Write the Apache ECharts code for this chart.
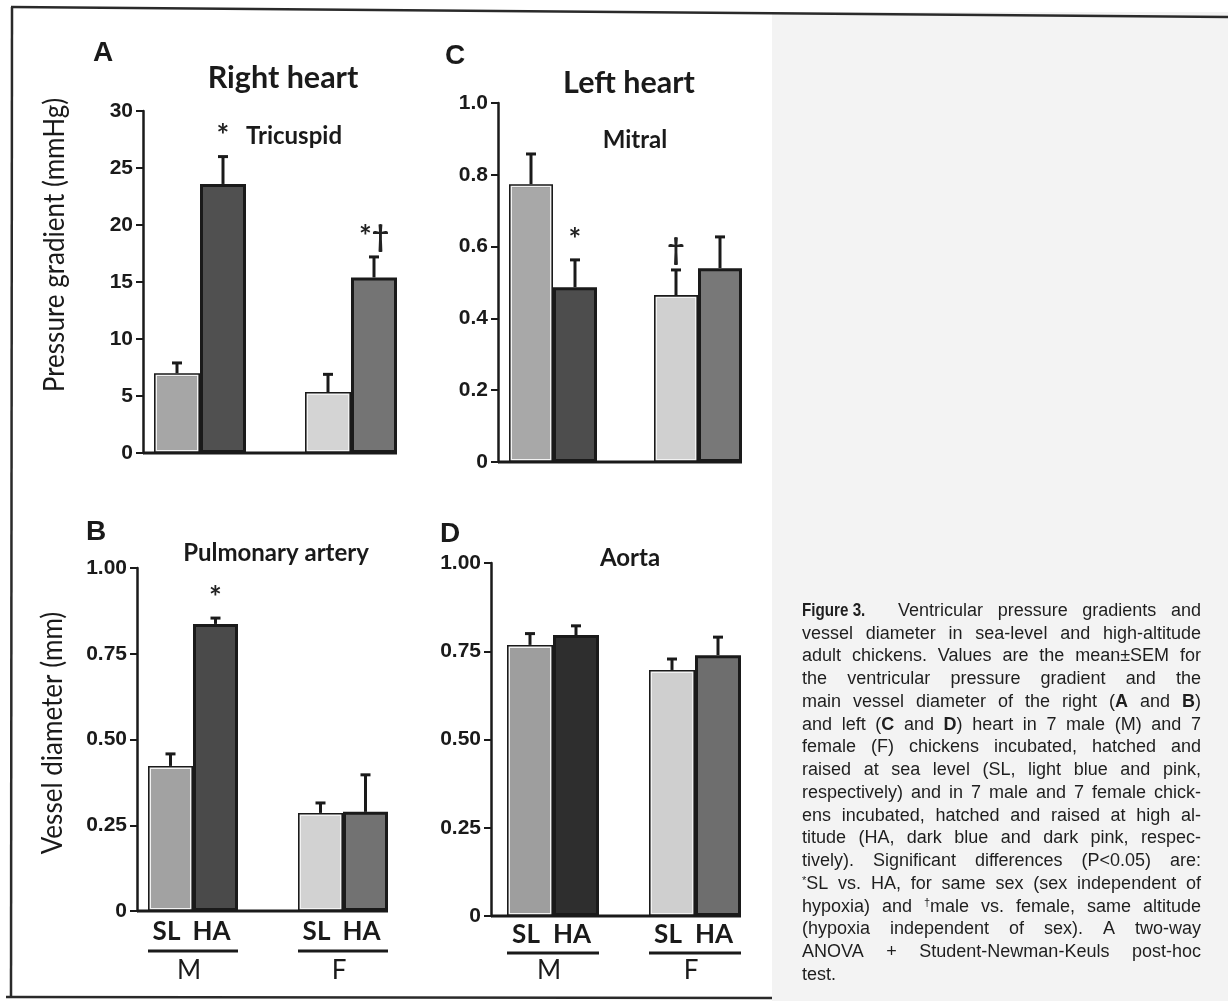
<!DOCTYPE html>
<html><head><meta charset="utf-8">
<script src="https://cdn.jsdelivr.net/npm/echarts@6/dist/echarts.min.js"></script>
<style>html,body{margin:0;padding:0;background:#fff}#c{width:1228px;height:1001px}</style>
</head><body><div id="c"></div>
<script>
// ---------------- DATA ----------------
const groups = ['M', 'F'];
const conditions = ['SL', 'HA'];

// A: Right heart, tricuspid pressure gradient (mmHg)
const tricuspidSL = [7.0, 5.35];
const tricuspidSLErr = [0.9, 1.55];
const tricuspidHA = [23.6, 15.4];
const tricuspidHAErr = [2.4, 1.8];
const tricuspidSigSL = ['', ''];
const tricuspidSigHA = ['*', '*†'];
const ticksA = ['0', '5', '10', '15', '20', '25', '30'];

// B: Pulmonary artery diameter (mm)
const pulmonarySL = [0.423, 0.286];
const pulmonarySLErr = [0.035, 0.029];
const pulmonaryHA = [0.837, 0.289];
const pulmonaryHAErr = [0.017, 0.108];
const pulmonarySigSL = ['', ''];
const pulmonarySigHA = ['*', ''];
const ticksB = ['0', '0.25', '0.50', '0.75', '1.00'];

// C: Left heart, mitral pressure gradient
const mitralSL = [0.774, 0.465];
const mitralSLErr = [0.084, 0.07];
const mitralHA = [0.487, 0.540];
const mitralHAErr = [0.076, 0.087];
const mitralSigSL = ['', '†'];
const mitralSigHA = ['*', ''];
const ticksC = ['0', '0.2', '0.4', '0.6', '0.8', '1.0'];

// D: Aorta diameter (mm)
const aortaSL = [0.768, 0.697];
const aortaSLErr = [0.032, 0.031];
const aortaHA = [0.796, 0.739];
const aortaHAErr = [0.026, 0.051];
const aortaSigSL = ['', ''];
const aortaSigHA = ['', ''];
const ticksD = ['0', '0.25', '0.50', '0.75', '1.00'];

const captionLines = [
  'Ventricular pressure gradients and',
  'vessel diameter in sea-level and high-altitude',
  'adult chickens. Values are the mean±SEM for',
  'the ventricular pressure gradient and the',
  'main vessel diameter of the right ({b|A} and {b|B})',
  'and left ({b|C} and {b|D}) heart in 7 male (M) and 7',
  'female (F) chickens incubated, hatched and',
  'raised at sea level (SL, light blue and pink,',
  'respectively) and in 7 male and 7 female chick-',
  'ens incubated, hatched and raised at high al-',
  'titude (HA, dark blue and dark pink, respec-',
  'tively). Significant differences (P<0.05) are:',
  '{s|*}SL vs. HA, for same sex (sex independent of',
  'hypoxia) and {s|†}male vs. female, same altitude',
  '(hypoxia independent of sex). A two-way',
  'ANOVA + Student-Newman-Keuls post-hoc',
  'test.'
];

// ---------------- STYLE / LAYOUT ----------------
const LATO = "Lato, 'Open Sans', sans-serif";
const ARIAL = "'Liberation Sans', Arial, Helvetica, sans-serif";
const INK = '#1a1a1a';

const panels = [
  { sl: tricuspidSL, slErr: tricuspidSLErr, ha: tricuspidHA, haErr: tricuspidHAErr, sigSL: tricuspidSigSL, sigHA: tricuspidSigHA, ticks: ticksA,
    max: 30, interval: 5, L: 124.5, W: 302, top: 111, H: 342, axisX: 143, barW: 46, cats: false,
    colors: { sl: ['#a6a6a6', '#d4d4d4'], ha: ['#505050', '#747474'] } },
  { sl: pulmonarySL, slErr: pulmonarySLErr, ha: pulmonaryHA, haErr: pulmonaryHAErr, sigSL: pulmonarySigSL, sigHA: pulmonarySigHA, ticks: ticksB,
    max: 1, interval: 0.25, L: 118, W: 300, top: 568, H: 343, axisX: 137, barW: 45, cats: true, labDist: 8, catMargin: 47, ulGap: 40,
    colors: { sl: ['#a2a2a2', '#d2d2d2'], ha: ['#4a4a4a', '#727272'] } },
  { sl: mitralSL, slErr: mitralSLErr, ha: mitralHA, haErr: mitralHAErr, sigSL: mitralSigSL, sigHA: mitralSigHA, ticks: ticksC,
    max: 1, interval: 0.2, L: 480.5, W: 290, top: 103, H: 359, axisX: 498, barW: 44, cats: false,
    colors: { sl: ['#a8a8a8', '#d0d0d0'], ha: ['#4d4d4d', '#787878'] } },
  { sl: aortaSL, slErr: aortaSLErr, ha: aortaHA, haErr: aortaHAErr, sigSL: aortaSigSL, sigHA: aortaSigHA, ticks: ticksD,
    max: 1, interval: 0.25, L: 482, W: 284, top: 563, H: 353, axisX: 491, barW: 46, cats: true, labDist: 6, catMargin: 42, ulGap: 37,
    colors: { sl: ['#9e9e9e', '#cfcfcf'], ha: ['#2e2e2e', '#6e6e6e'] } }
];

const grids = [], xAxes = [], yAxes = [], series = [];

panels.forEach((p, i) => {
  grids.push({ left: p.L, top: p.top, width: p.W, height: p.H });
  xAxes.push({
    gridIndex: i, type: 'category', data: groups,
    axisLine: { show: false }, axisTick: { show: false },
    axisLabel: p.cats ? { show: true, margin: p.catMargin, fontFamily: LATO, fontSize: 26, color: INK, padding: [0, 8, 0, 0] } : { show: false }
  });
  yAxes.push({
    gridIndex: i, type: 'value', min: 0, max: p.max, interval: p.interval, offset: p.L - p.axisX,
    axisLine: { show: true, lineStyle: { color: INK, width: 2.5 } },
    axisTick: { show: true, length: 7, lineStyle: { color: INK, width: 2 } },
    splitLine: { show: false },
    axisLabel: { margin: 10, fontFamily: ARIAL, fontWeight: 'bold', fontSize: 21, color: INK,
      formatter: v => p.ticks[Math.round(v / p.interval)] }
  });
  const mk = (vals, cols) => vals.map((v, k) => ({ value: v, itemStyle: { color: cols[k] } }));
  [['sl', 0], ['ha', 1]].forEach(([key, s]) => {
    series.push({
      type: 'bar', name: conditions[s], xAxisIndex: i, yAxisIndex: i,
      barWidth: p.barW, barGap: '0%',
      data: mk(p[key], p.colors[key]),
      itemStyle: { borderColor: INK, borderWidth: 3 },
      label: p.cats ? { show: true, position: 'bottom', distance: p.labDist, offset: [-4, 0], formatter: conditions[s],
        fontFamily: LATO, fontWeight: 'bold', fontSize: 26, color: INK } : { show: false },
      silent: true, z: 2
    });
  });
  const items = [];
  [['sl', 'slErr', 'sigSL', 0], ['ha', 'haErr', 'sigHA', 1]].forEach(([k, e, sg, s]) => {
    p[k].forEach((v, c) => items.push({ cat: c, mean: v, err: p[e][c], sig: p[sg][c], s }));
  });
  series.push({
    type: 'custom', xAxisIndex: i, yAxisIndex: i, silent: true, z: 5,
    data: items.map(it => [it.cat, it.mean + it.err]),
    renderItem: (params, api) => {
      const it = items[params.dataIndex];
      const base = api.coord([it.cat, it.mean]);
      const zero = api.coord([it.cat, 0]);
      const tp = api.coord([it.cat, it.mean + it.err]);
      const x = base[0] + (it.s === 0 ? -1 : 1) * p.barW / 2;
      const ch = [];
      if (it.s === 0) {
        // thin light inner edge seen on the sea-level bars
        ch.push({ type: 'rect', shape: { x: x - p.barW / 2 + 2.3, y: base[1] + 2.3, width: p.barW - 4.6, height: zero[1] - base[1] - 4.6 },
          style: { fill: 'none', stroke: '#f2f2f2', lineWidth: 1.4 } });
      }
      ch.push({ type: 'line', shape: { x1: x, y1: base[1], x2: x, y2: tp[1] }, style: { stroke: INK, lineWidth: 3 } });
      ch.push({ type: 'line', shape: { x1: x - 5, y1: tp[1], x2: x + 5, y2: tp[1] }, style: { stroke: INK, lineWidth: 3 } });
      if (it.sig) ch.push({ type: 'text', style: { text: it.sig, x: x, y: tp[1] - 20, align: 'center', verticalAlign: 'middle',
        fontFamily: LATO, fontWeight: 'bold', fontSize: 30, fill: '#222' } });
      return { type: 'group', children: ch };
    }
  });
});

const chart = echarts.init(document.getElementById('c'), null, { renderer: 'canvas', width: 1228, height: 1001 });
chart.setOption({ backgroundColor: '#ffffff', animation: false, grid: grids, xAxis: xAxes, yAxis: yAxes, series: series });

// ---------------- GRAPHIC (frame, titles, caption) ----------------
const g = [];
g.push({ type: 'rect', shape: { x: 772, y: 12, width: 456, height: 989 }, style: { fill: '#f3f3f3' }, z: -10 });
g.push({ type: 'line', shape: { x1: 11, y1: 7, x2: 1228, y2: 17 }, style: { stroke: '#2a2a2a', lineWidth: 2.5 } });
g.push({ type: 'line', shape: { x1: 12, y1: 7, x2: 11, y2: 998 }, style: { stroke: '#2a2a2a', lineWidth: 2.5 } });
g.push({ type: 'line', shape: { x1: 6, y1: 997, x2: 772, y2: 998 }, style: { stroke: '#2a2a2a', lineWidth: 2.5 } });

const txt = (text, x, y, size, weight, family, extra) => ({ type: 'text', style: Object.assign({ text, x, y, fontSize: size, fontWeight: weight,
  fontFamily: family, fill: INK, align: 'center', verticalAlign: 'middle' }, extra || {}) });
g.push(txt('A', 103, 53, 28, 'bold', ARIAL));
g.push(txt('C', 455, 56, 28, 'bold', ARIAL));
g.push(txt('B', 96, 532, 28, 'bold', ARIAL));
g.push(txt('D', 450, 534, 28, 'bold', ARIAL));
g.push(txt('Right heart', 283, 78, 30.5, 'bold', LATO));
g.push(txt('Left heart', 629, 83, 30.5, 'bold', LATO));
g.push(txt('Tricuspid', 294, 136, 24, 'bold', LATO));
g.push(txt('Mitral', 635, 140, 24, 'bold', LATO));
g.push(txt('Pulmonary artery', 276, 553, 24, 'bold', LATO));
g.push(txt('Aorta', 630, 558, 24, 'bold', LATO));
g.push(Object.assign(txt('Pressure gradient (mmHg)', 0, 0, 28, 'normal', LATO), { x: 55, y: 245, rotation: Math.PI / 2, scaleX: 0.93 }));
g.push(Object.assign(txt('Vessel diameter (mm)', 0, 0, 28, 'normal', LATO), { x: 53, y: 733, rotation: Math.PI / 2, scaleX: 0.93 }));

// baselines and group underlines from the axes
panels.forEach((p, i) => {
  const z0 = chart.convertToPixel({ gridIndex: i }, [0, 0]);
  const f0 = chart.convertToPixel({ gridIndex: i }, [1, 0]);
  g.push({ type: 'line', shape: { x1: p.axisX, y1: z0[1], x2: f0[0] + p.barW, y2: z0[1] }, style: { stroke: INK, lineWidth: 3 }, z: 10 });
  if (p.cats) {
    [z0[0], f0[0]].forEach(cx => g.push({ type: 'line', shape: { x1: cx - p.barW, y1: z0[1] + p.ulGap, x2: cx + p.barW, y2: z0[1] + p.ulGap },
      style: { stroke: INK, lineWidth: 3 } }));
  }
});

// caption (justified)
const CAP = 18, CAPF = ARIAL, CAPC = '#1e1e1e';
const rich = { b: { fontFamily: CAPF, fontSize: CAP, fontWeight: 'bold', fill: CAPC }, s: { fontFamily: CAPF, fontSize: 11, fill: CAPC, verticalAlign: 'top' } };
const ctx = document.createElement('canvas').getContext('2d');
const mw = (s, w, sz) => { ctx.font = w + ' ' + sz + 'px ' + CAPF; return ctx.measureText(s).width; };
function measure(word) {
  let w = 0, last = 0, m; const re = /\{(\w+)\|([^}]*)\}/g;
  while ((m = re.exec(word))) {
    if (m.index > last) w += mw(word.slice(last, m.index), 'normal', CAP);
    const st = rich[m[1]]; w += mw(m[2], st.fontWeight || 'normal', st.fontSize);
    last = re.lastIndex;
  }
  if (last < word.length) w += mw(word.slice(last), 'normal', CAP);
  return w;
}
const capL = 802, capR = 1201, capY0 = 611, capLH = 22.75;
g.push({ type: 'text', x: capL, y: capY0, scaleX: 0.8, style: { text: 'Figure 3.', x: 0, y: 0, fontSize: 19, fontWeight: 'bold',
  fontFamily: ARIAL, fill: CAPC, align: 'left', verticalAlign: 'middle' } });
captionLines.forEach((line, li) => {
  const y = capY0 + li * capLH;
  const words = line.split(' ');
  const widths = words.map(measure);
  const x0 = li === 0 ? 898 : capL;
  const sum = widths.reduce((a, b) => a + b, 0);
  const last = li === captionLines.length - 1;
  const gap = (last || words.length < 2) ? mw(' ', 'normal', CAP) : (capR - x0 - sum) / (words.length - 1);
  let x = x0;
  words.forEach((w, k) => {
    g.push({ type: 'text', style: { text: w, x, y, fontSize: CAP, fontFamily: CAPF, fill: CAPC, align: 'left', verticalAlign: 'middle', rich } });
    x += widths[k] + gap;
  });
});

chart.setOption({ graphic: g });
</script>
</body></html>
